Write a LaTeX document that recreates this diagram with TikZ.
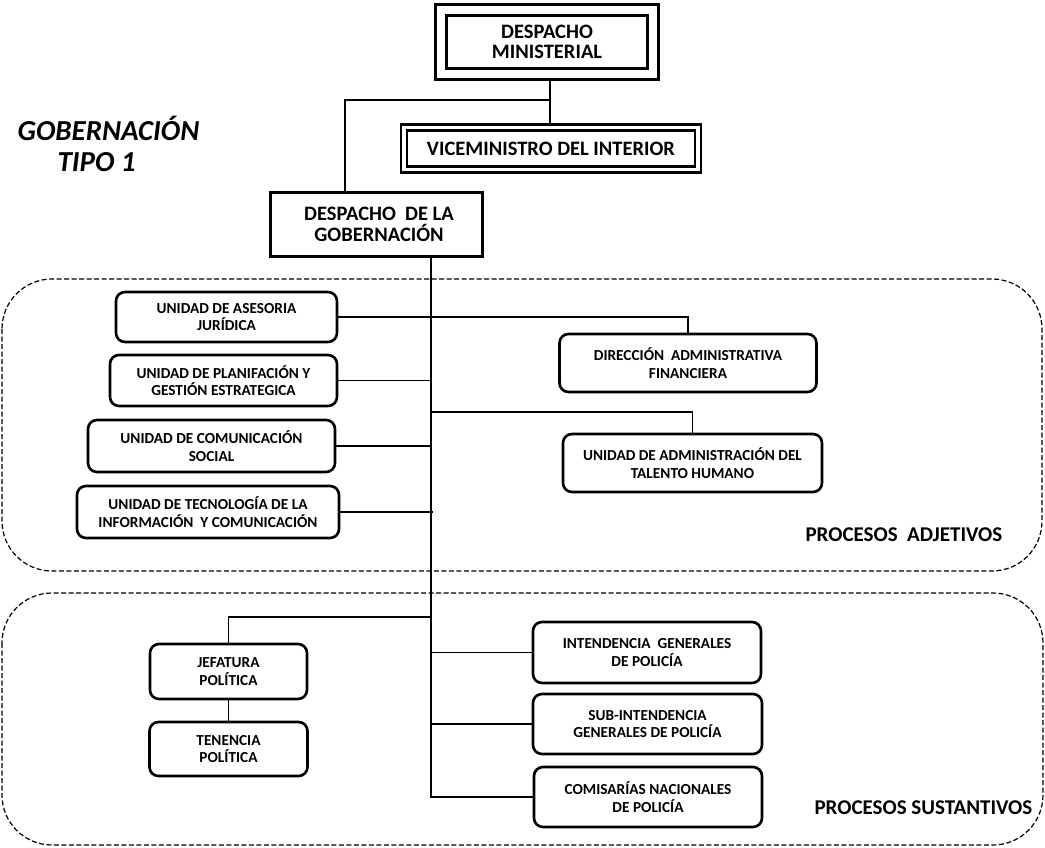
\documentclass[tikz,border=0pt]{standalone}
\usepackage{fontspec}
\setmainfont{Carlito}
\newcommand{\unitfont}{\fontsize{15.3}{17.5}\selectfont\bfseries}
\newcommand{\bigfont}{\fontsize{20.5}{20.5}\selectfont\bfseries}
\newcommand{\procfont}{\fontsize{21}{24}\selectfont\bfseries}
\newcommand{\titlefont}{\fontsize{29}{33}\selectfont\bfseries\itshape}
\begin{document}
\begin{tikzpicture}[x=1pt,y=1pt,
  unitbox/.style={draw, line width=2.6pt, rounded corners=9pt, align=center, font=\unitfont, inner sep=2pt, outer sep=1.3pt},
  plainbox/.style={draw, line width=3pt, align=center, font=\bigfont, inner sep=2pt, outer sep=1.5pt},
  dblbox/.style={draw, line width=#1, double=white, align=center, font=\bigfont, inner sep=2pt},
  conn/.style={line width=1.4pt},
  region/.style={line width=1.2pt, dash pattern=on 5pt off 2.5pt, rounded corners=50pt},
  proc/.style={font=\procfont, anchor=west},
  title/.style={font=\titlefont, anchor=west}]
\useasboundingbox (0,0) rectangle (1045,-848);

% regions
\draw[region] (2,-279) rectangle (1042,-571);
\draw[region] (2,-593) rectangle (1043,-845);

% top
\node[dblbox=3pt, double distance=8pt, minimum width=212pt, minimum height=64pt, outer sep=7pt] (dm) at (547,-42) {DESPACHO\\MINISTERIAL};
\node[dblbox=2.5pt, double distance=3.5pt, minimum width=294pt, minimum height=42pt, outer sep=4.5pt] (vm) at (551,-148.5) {VICEMINISTRO DEL INTERIOR};
\node[plainbox, minimum width=212pt, minimum height=63pt] (dg) at (376,-224.5) {\hspace*{6pt}DESPACHO~~DE LA\\\hspace*{6pt}GOBERNACIÓN};

\node[title] (t1) at (14,-128) {GOBERNACIÓN};
\node[title] (t2) at (54,-162) {TIPO 1};

% adjetivos
\node[unitbox, minimum width=221pt, minimum height=50pt] (ase) at (226.5,-317) {UNIDAD DE ASESORIA\\JURÍDICA};
\node[unitbox, minimum width=227pt, minimum height=51pt] (pla) at (223.5,-380.5) {UNIDAD DE PLANIFACIÓN Y\\GESTIÓN ESTRATEGICA};
\node[unitbox, minimum width=247pt, minimum height=52pt] (com) at (211.5,-446) {UNIDAD DE COMUNICACIÓN\\SOCIAL};
\node[unitbox, minimum width=262pt, minimum height=52pt] (tec) at (208,-512) {UNIDAD DE TECNOLOGÍA DE LA\\INFORMACIÓN~ Y COMUNICACIÓN};
\node[unitbox, minimum width=257pt, minimum height=58pt] (daf) at (688,-363) {DIRECCIÓN~ ADMINISTRATIVA\\FINANCIERA};
\node[unitbox, minimum width=259pt, minimum height=58pt] (uat) at (692.5,-463) {UNIDAD DE ADMINISTRACIÓN DEL\\TALENTO HUMANO};
\node[proc] (pa) at (802,-535) {PROCESOS~ ADJETIVOS};

% sustantivos
\node[unitbox, minimum width=157pt, minimum height=55pt] (jp) at (228.5,-671.5) {JEFATURA\\POLÍTICA};
\node[unitbox, minimum width=158pt, minimum height=54pt] (tp) at (228.5,-749) {TENENCIA\\POLÍTICA};
\node[unitbox, minimum width=228pt, minimum height=61pt] (igp) at (647,-652.5) {INTENDENCIA~ GENERALES\\DE POLICÍA};
\node[unitbox, minimum width=229pt, minimum height=60pt] (sigp) at (647.5,-724) {SUB-INTENDENCIA\\GENERALES DE POLICÍA};
\node[unitbox, minimum width=228pt, minimum height=60pt] (cnp) at (648,-797) {COMISARÍAS NACIONALES\\DE POLICÍA};
\node[proc] (ps) at (811,-808) {PROCESOS SUSTANTIVOS};

% connectors
\coordinate (c1) at (550,-100);
\coordinate (c2) at (345,-100);
\coordinate (trunk) at (431,-256);
\coordinate (j1) at (431,-412);
\coordinate (j2) at (431,-617);
\draw[conn] (c1 |- dm.south) -- (c1 |- vm.north);
\draw[conn] (c1) -- (c2) -- (c2 |- dg.north);
\draw[conn] (dg.south -| trunk) |- (cnp.west);
\draw[conn] (ase.east) -| (daf.north);
\draw[conn] (pla.east) -- (pla.east -| trunk);
\draw[conn] (com.east) -- (com.east -| trunk);
\draw[conn] (tec.east) -- ([xshift=2pt]tec.east -| trunk);
\draw[conn] (j1) -| (uat.north);
\draw[conn] (j2) -| (jp.north);
\draw[conn] (jp.south) -- (tp.north);
\draw[conn] (igp.west -| trunk) -- (igp.west);
\draw[conn] (sigp.west -| trunk) -- (sigp.west);
\end{tikzpicture}
\end{document}
